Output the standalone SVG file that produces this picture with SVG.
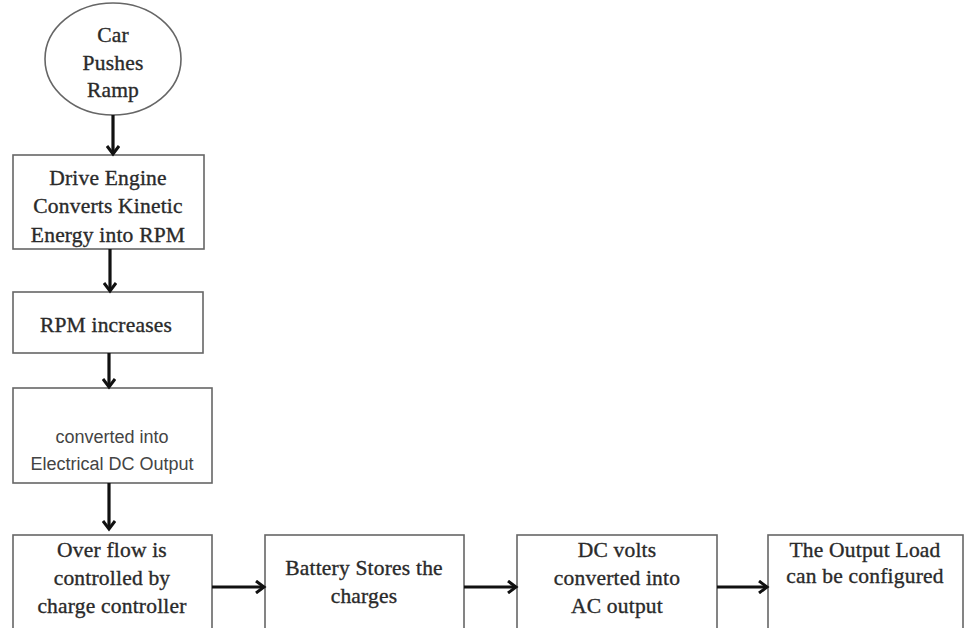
<svg xmlns="http://www.w3.org/2000/svg" width="966" height="628" viewBox="0 0 966 628">
<defs>
<marker id="ah" markerWidth="14" markerHeight="14" refX="10" refY="7" orient="auto" markerUnits="userSpaceOnUse">
<path d="M2,1 L10,7 L2,13" fill="none" stroke="#111" stroke-width="3"/>
</marker>
</defs>
<style>
.box{fill:#fff;stroke:#666;stroke-width:1.6}
.t{font-family:"Liberation Serif","DejaVu Serif",serif;font-size:21.5px;letter-spacing:0.2px;fill:#2a2a2a;stroke:#2a2a2a;stroke-width:0.35;text-anchor:middle}
.s{font-family:"Liberation Sans","DejaVu Sans",sans-serif;font-size:18px;fill:#444;text-anchor:middle}
.c{stroke:#111;stroke-width:3.2;fill:none;marker-end:url(#ah)}
</style>
<rect width="966" height="628" fill="#fff"/>
<g id="start">
<ellipse class="box" cx="113" cy="59" rx="68" ry="56"/>
<text class="t" x="113" y="42">Car</text>
<text class="t" x="113" y="70">Pushes</text>
<text class="t" x="113" y="97">Ramp</text>
</g>
<g id="drive">
<rect class="box" x="13" y="155" width="191" height="94"/>
<text class="t" x="108" y="185">Drive Engine</text>
<text class="t" x="108" y="213">Converts Kinetic</text>
<text class="t" x="108" y="242">Energy into RPM</text>
</g>
<g id="rpm">
<rect class="box" x="13" y="292" width="190" height="61"/>
<text class="t" x="106" y="332">RPM increases</text>
</g>
<g id="dc">
<rect class="box" x="13" y="388" width="199" height="95"/>
<text class="s" x="112" y="443">converted into</text>
<text class="s" x="112" y="470">Electrical DC Output</text>
</g>
<g id="overflow">
<rect class="box" x="13" y="535" width="199" height="110"/>
<text class="t" x="112" y="557">Over flow is</text>
<text class="t" x="112" y="585">controlled by</text>
<text class="t" x="112" y="613">charge controller</text>
</g>
<g id="battery">
<rect class="box" x="265" y="535" width="199" height="110"/>
<text class="t" x="364" y="575">Battery Stores the</text>
<text class="t" x="364" y="603">charges</text>
</g>
<g id="ac">
<rect class="box" x="517" y="535" width="200" height="110"/>
<text class="t" x="617" y="557">DC volts</text>
<text class="t" x="617" y="585">converted into</text>
<text class="t" x="617" y="613">AC output</text>
</g>
<g id="load">
<rect class="box" x="768" y="535" width="195" height="110"/>
<text class="t" x="865" y="557">The Output Load</text>
<text class="t" x="865" y="583">can be configured</text>
</g>
<g id="connectors">
<line class="c" x1="113" y1="115" x2="113" y2="154"/>
<line class="c" x1="110" y1="249" x2="110" y2="291"/>
<line class="c" x1="109" y1="353" x2="109" y2="387"/>
<line class="c" x1="109" y1="483" x2="109" y2="529"/>
<line class="c" x1="212" y1="587" x2="264" y2="587"/>
<line class="c" x1="464" y1="587" x2="516" y2="587"/>
<line class="c" x1="717" y1="587" x2="767" y2="587"/>
</g>
</svg>
